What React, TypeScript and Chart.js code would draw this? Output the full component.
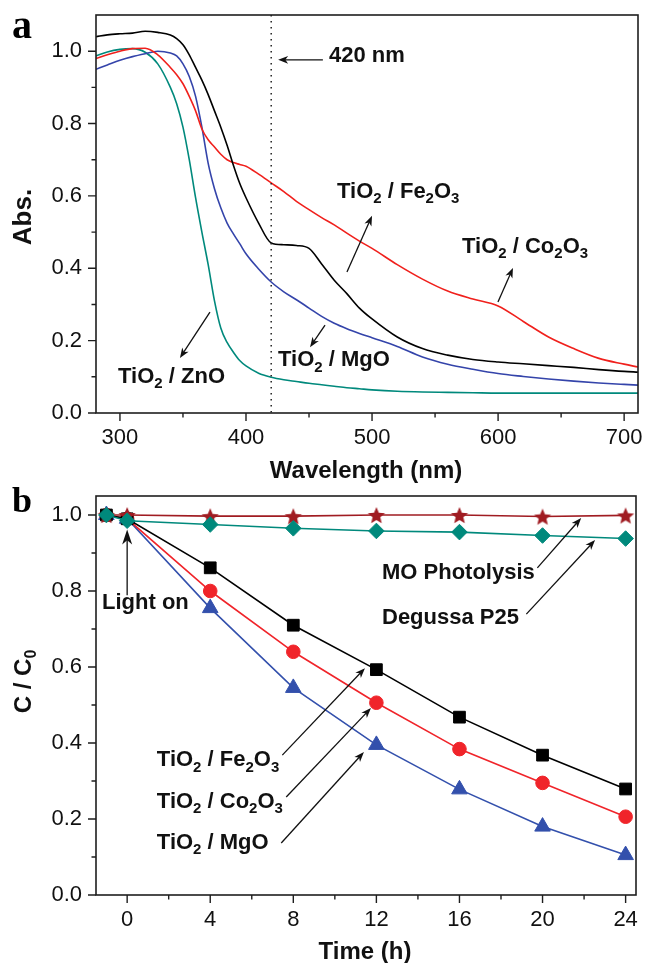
import React, { useEffect, useRef } from 'react';
import { Chart, registerables } from 'chart.js';
Chart.register(...registerables);

// ---------- Panel a data ----------
const wavelengths = [281, 290, 300, 310, 320, 330, 340, 345, 350, 355, 360, 365, 370, 375, 380, 385, 390, 395, 400, 410, 420, 430, 440, 450, 460, 470, 480, 490, 500, 520, 540, 560, 580, 600, 620, 640, 660, 680, 700, 711];
const absFe2O3 = [1.040, 1.045, 1.048, 1.050, 1.055, 1.052, 1.045, 1.035, 1.018, 0.99, 0.955, 0.92, 0.88, 0.835, 0.79, 0.74, 0.685, 0.635, 0.595, 0.525, 0.47, 0.465, 0.463, 0.455, 0.412, 0.367, 0.33, 0.29, 0.26, 0.21, 0.178, 0.16, 0.148, 0.141, 0.136, 0.131, 0.126, 0.12, 0.115, 0.113];
const absCo2O3 = [0.98, 0.99, 1.0, 1.007, 1.008, 0.99, 0.955, 0.935, 0.91, 0.875, 0.835, 0.785, 0.755, 0.735, 0.715, 0.70, 0.692, 0.687, 0.682, 0.66, 0.636, 0.612, 0.585, 0.562, 0.54, 0.52, 0.497, 0.475, 0.455, 0.41, 0.37, 0.337, 0.315, 0.296, 0.253, 0.21, 0.178, 0.151, 0.135, 0.127];
const absMgO = [0.95, 0.962, 0.975, 0.985, 0.993, 1.0, 0.995, 0.987, 0.965, 0.93, 0.875, 0.79, 0.69, 0.62, 0.567, 0.525, 0.495, 0.468, 0.44, 0.398, 0.362, 0.335, 0.313, 0.29, 0.267, 0.248, 0.233, 0.22, 0.208, 0.184, 0.155, 0.135, 0.121, 0.109, 0.101, 0.094, 0.088, 0.083, 0.079, 0.077];
const absZnO = [0.987, 0.998, 1.005, 1.007, 0.997, 0.965, 0.9, 0.855, 0.79, 0.70, 0.595, 0.50, 0.41, 0.31, 0.235, 0.195, 0.168, 0.145, 0.13, 0.11, 0.099, 0.092, 0.087, 0.082, 0.078, 0.074, 0.07, 0.067, 0.064, 0.06, 0.058, 0.057, 0.056, 0.055, 0.055, 0.055, 0.055, 0.055, 0.055, 0.055];
const wlTicks = [300, 400, 500, 600, 700];
const wlMinor = [350, 450, 550, 650];
const absTicks = [0, 0.2, 0.4, 0.6, 0.8, 1.0];
const absMinor = [0.1, 0.3, 0.5, 0.7, 0.9];

// ---------- Panel b data ----------
const timeH = [-1, 0, 4, 8, 12, 16, 20, 24];
const cFe2O3 = [1.0, 0.99, 0.861, 0.71, 0.593, 0.468, 0.368, 0.279];
const cCo2O3 = [1.0, 0.99, 0.80, 0.64, 0.506, 0.384, 0.295, 0.206];
const cMgO = [1.0, 0.99, 0.755, 0.545, 0.395, 0.278, 0.18, 0.105];
const cP25 = [1.0, 0.985, 0.975, 0.965, 0.958, 0.955, 0.946, 0.938];
const cPhotolysis = [1.0, 1.0, 0.997, 0.997, 1.0, 1.0, 0.996, 0.999];
const timeTicks = [0, 4, 8, 12, 16, 20, 24];
const timeMinor = [2, 6, 10, 14, 18, 22];
const cTicks = [0, 0.2, 0.4, 0.6, 0.8, 1.0];
const cMinor = [0.1, 0.3, 0.5, 0.7, 0.9];

const FONT = '"Liberation Sans", Arial, Helvetica, sans-serif';
const SERIF = '"Liberation Serif", "Times New Roman", serif';
const AXIS = '#1e1e1e';

// annotations (data coordinates)
const annotA = [
  { text: '420 nm', x: 465.8, y: 0.987, tail: [461, 0.976], tip: [425.5, 0.976] },
  { text: 'TiO_2 / Fe_2O_3', x: 472.2, y: 0.611, tail: [480.1, 0.39], tip: [500, 0.545] },
  { text: 'TiO_2 / Co_2O_3', x: 571.4, y: 0.459, tail: [599.9, 0.307], tip: [611.8, 0.401] },
  { text: 'TiO_2 / MgO', x: 425.4, y: 0.146, tail: [462.7, 0.243], tip: [450.8, 0.182] },
  { text: 'TiO_2 / ZnO', x: 298.5, y: 0.0995, tail: [371.4, 0.279], tip: [347.6, 0.152] },
];
const annotB = [
  { text: 'Light on', x: -1.21, y: 0.768, tail: [0, 0.789], tip: [0, 0.962], big: true },
  { text: 'MO Photolysis', x: 12.27, y: 0.847, tail: [19.75, 0.861], tip: [21.86, 0.992] },
  { text: 'Degussa P25', x: 12.27, y: 0.729, tail: [19.22, 0.739], tip: [22.53, 0.934] },
  { text: 'TiO_2 / Fe_2O_3', x: 1.43, y: 0.355, tail: [7.47, 0.368], tip: [11.45, 0.597] },
  { text: 'TiO_2 / Co_2O_3', x: 1.43, y: 0.245, tail: [7.66, 0.258], tip: [11.74, 0.492] },
  { text: 'TiO_2 / MgO', x: 1.43, y: 0.137, tail: [7.42, 0.137], tip: [11.40, 0.376] },
];

function parseSub(text: string) {
  const out: { t: string; sub: boolean }[] = [];
  let buf = '';
  for (let i = 0; i < text.length; i++) {
    if (text[i] === '_') {
      if (buf) out.push({ t: buf, sub: false });
      buf = '';
      out.push({ t: text[i + 1], sub: true });
      i++;
    } else buf += text[i];
  }
  if (buf) out.push({ t: buf, sub: false });
  return out;
}

function drawRich(ctx: CanvasRenderingContext2D, text: string, x: number, y: number, size: number, align: 'left' | 'center' = 'left') {
  const parts = parseSub(text);
  const sub = Math.round(size * 0.68);
  let total = 0;
  const ws = parts.map((p) => {
    ctx.font = `bold ${p.sub ? sub : size}px ${FONT}`;
    const w = ctx.measureText(p.t).width;
    total += w;
    return w;
  });
  let cx = align === 'center' ? x - total / 2 : x;
  ctx.textAlign = 'left';
  ctx.textBaseline = 'middle';
  ctx.fillStyle = '#111';
  parts.forEach((p, i) => {
    ctx.font = `bold ${p.sub ? sub : size}px ${FONT}`;
    ctx.fillText(p.t, cx, p.sub ? y + size * 0.33 : y);
    cx += ws[i];
  });
}

function arrow(ctx: CanvasRenderingContext2D, x1: number, y1: number, x2: number, y2: number, len = 10, hw = 3.8) {
  const a = Math.atan2(y2 - y1, x2 - x1);
  const c = Math.cos(a), s = Math.sin(a);
  ctx.strokeStyle = '#111';
  ctx.fillStyle = '#111';
  ctx.lineWidth = 1.3;
  ctx.beginPath();
  ctx.moveTo(x1, y1);
  ctx.lineTo(x2 - c * len * 0.6, y2 - s * len * 0.6);
  ctx.stroke();
  const bx = x2 - c * len, by = y2 - s * len;
  const nx = -s, ny = c;
  ctx.beginPath();
  ctx.moveTo(x2, y2);
  ctx.lineTo(bx + nx * hw, by + ny * hw);
  ctx.lineTo(x2 - c * len * 0.72, y2 - s * len * 0.72);
  ctx.lineTo(bx - nx * hw, by - ny * hw);
  ctx.closePath();
  ctx.fill();
}

function drawAxesFrame(chart: any, xMajor: number[], xMinor: number[], yMajor: number[], yMinor: number[]) {
  const ctx: CanvasRenderingContext2D = chart.ctx;
  const { left, right, top, bottom } = chart.chartArea;
  const xs = chart.scales.x, ys = chart.scales.y;
  ctx.save();
  ctx.strokeStyle = AXIS;
  ctx.lineWidth = 1.6;
  ctx.strokeRect(left, top, right - left, bottom - top);
  ctx.lineWidth = 1.4;
  ctx.beginPath();
  xMajor.forEach((v) => { const p = xs.getPixelForValue(v); ctx.moveTo(p, bottom); ctx.lineTo(p, bottom + 8); });
  xMinor.forEach((v) => { const p = xs.getPixelForValue(v); ctx.moveTo(p, bottom); ctx.lineTo(p, bottom + 4.5); });
  yMajor.forEach((v) => { const p = ys.getPixelForValue(v); ctx.moveTo(left, p); ctx.lineTo(left - 8, p); });
  yMinor.forEach((v) => { const p = ys.getPixelForValue(v); ctx.moveTo(left, p); ctx.lineTo(left - 4.5, p); });
  ctx.stroke();
  ctx.restore();
}

function drawAnnots(chart: any, list: any[]) {
  const ctx: CanvasRenderingContext2D = chart.ctx;
  const xs = chart.scales.x, ys = chart.scales.y;
  ctx.save();
  list.forEach((a) => {
    drawRich(ctx, a.text, xs.getPixelForValue(a.x), ys.getPixelForValue(a.y), 22);
    arrow(ctx, xs.getPixelForValue(a.tail[0]), ys.getPixelForValue(a.tail[1]), xs.getPixelForValue(a.tip[0]), ys.getPixelForValue(a.tip[1]), a.big ? 15 : 10, a.big ? 5 : 3.8);
  });
  ctx.restore();
}

function drawTitles(chart: any, xTitle: string, yTitle: string, xTitleY: number, yTitleOffset: number, yTitleSize: number, panel: string, panelY: number, panelSize: number) {
  const ctx: CanvasRenderingContext2D = chart.ctx;
  const { left, right, top, bottom } = chart.chartArea;
  ctx.save();
  drawRich(ctx, xTitle, (left + right) / 2 - 1, xTitleY, 24, 'center');
  ctx.translate(24, (top + bottom) / 2 + yTitleOffset);
  ctx.rotate(-Math.PI / 2);
  drawRich(ctx, yTitle, 0, 0, yTitleSize, 'center');
  ctx.restore();
  ctx.save();
  ctx.font = `bold ${panelSize}px ${SERIF}`;
  ctx.fillStyle = '#000';
  ctx.textAlign = 'left';
  ctx.textBaseline = 'alphabetic';
  ctx.fillText(panel, 12, panelY);
  ctx.restore();
}

function makeStar(r: number, color: string) {
  const c = document.createElement('canvas');
  const s = Math.ceil(r * 2 + 2);
  c.width = s;
  c.height = s;
  const g = c.getContext('2d')!;
  g.fillStyle = color;
  g.beginPath();
  for (let i = 0; i < 10; i++) {
    const ang = -Math.PI / 2 + (i * Math.PI) / 5;
    const rr = i % 2 === 0 ? r : r * 0.45;
    g.lineTo(s / 2 + rr * Math.cos(ang), s / 2 + 1 + rr * Math.sin(ang));
  }
  g.closePath();
  g.fill();
  return c;
}

const tickFont = { family: 'Liberation Sans', size: 22 };

export default function App() {
  const refA = useRef<HTMLCanvasElement>(null);
  const refB = useRef<HTMLCanvasElement>(null);

  useEffect(() => {
    const line = (label: string, ys: number[], color: string) => ({
      label,
      data: wavelengths.map((x, i) => ({ x, y: ys[i] })),
      borderColor: color,
      borderWidth: 1.6,
      pointRadius: 0,
      fill: false,
      cubicInterpolationMode: 'monotone' as const,
    });
    const chartA = new Chart(refA.current!, {
      type: 'line',
      data: {
        datasets: [
          line('TiO2 / Fe2O3', absFe2O3, '#000000'),
          line('TiO2 / Co2O3', absCo2O3, '#f0201c'),
          line('TiO2 / MgO', absMgO, '#3444aa'),
          line('TiO2 / ZnO', absZnO, '#00897c'),
        ],
      },
      options: {
        animation: false,
        responsive: false,
        maintainAspectRatio: false,
        layout: { padding: { top: 15, right: 8, left: 0, bottom: 0 } },
        plugins: { legend: { display: false }, tooltip: { enabled: false } },
        scales: {
          x: {
            type: 'linear', min: 281, max: 711, bounds: 'data',
            afterBuildTicks: (s: any) => { s.ticks = wlTicks.map((v) => ({ value: v })); },
            afterFit: (s: any) => { s.height = 72; s.paddingLeft = 0; s.paddingRight = 0; },
            grid: { display: false, drawTicks: false }, border: { display: false },
            ticks: { padding: 12, font: tickFont, color: '#111', maxRotation: 0, autoSkip: false, callback: (v: any) => String(v) },
          },
          y: {
            type: 'linear', min: 0, max: 1.1, bounds: 'data',
            afterBuildTicks: (s: any) => { s.ticks = absTicks.map((v) => ({ value: v })); },
            afterFit: (s: any) => { s.width = 96; s.paddingTop = 0; s.paddingBottom = 0; },
            grid: { display: false, drawTicks: false }, border: { display: false },
            ticks: { padding: 14, font: tickFont, color: '#111', autoSkip: false, callback: (v: any) => Number(v).toFixed(1) },
          },
        },
      },
      plugins: [{
        id: 'decoA',
        afterDraw(chart: any) {
          const ctx = chart.ctx as CanvasRenderingContext2D;
          const { top, bottom } = chart.chartArea;
          const px = chart.scales.x.getPixelForValue(420);
          ctx.save();
          ctx.strokeStyle = '#222';
          ctx.lineWidth = 1.5;
          ctx.setLineDash([1.5, 4.5]);
          ctx.beginPath();
          ctx.moveTo(px, top);
          ctx.lineTo(px, bottom);
          ctx.stroke();
          ctx.restore();
          drawAxesFrame(chart, wlTicks, wlMinor, absTicks, absMinor);
          drawAnnots(chart, annotA);
          drawTitles(chart, 'Wavelength (nm)', 'Abs.', 471, 3, 26, 'a', 38, 40);
        },
      }],
    } as any);

    const star = makeStar(9, '#a01c22');
    const pts = (label: string, ys: number[], color: string, style: any, r: number) => ({
      label,
      data: timeH.map((x, i) => ({ x, y: ys[i] })),
      borderColor: color,
      backgroundColor: color,
      borderWidth: 1.6,
      pointStyle: style,
      pointRadius: r,
      pointBorderWidth: 1,
      pointBackgroundColor: color,
      pointBorderColor: color,
      fill: false,
      tension: 0,
    });
    const chartB = new Chart(refB.current!, {
      type: 'line',
      data: {
        datasets: [
          pts('Degussa P25', cP25, '#00897c', 'rectRot', 7.8),
          pts('MO Photolysis', cPhotolysis, '#a01c22', star, 9),
          pts('TiO2 / Fe2O3', cFe2O3, '#000000', 'rect', 8.3),
          pts('TiO2 / Co2O3', cCo2O3, '#f0242a', 'circle', 6.8),
          pts('TiO2 / MgO', cMgO, '#3350ac', 'triangle', 9),
        ],
      },
      options: {
        animation: false,
        responsive: false,
        maintainAspectRatio: false,
        layout: { padding: { top: 11, right: 8, left: 0, bottom: 0 } },
        plugins: { legend: { display: false }, tooltip: { enabled: false } },
        scales: {
          x: {
            type: 'linear', min: -1.5, max: 24.5, bounds: 'data',
            afterBuildTicks: (s: any) => { s.ticks = timeTicks.map((v) => ({ value: v })); },
            afterFit: (s: any) => { s.height = 68; s.paddingLeft = 0; s.paddingRight = 0; },
            grid: { display: false, drawTicks: false }, border: { display: false },
            ticks: { padding: 12, font: tickFont, color: '#111', maxRotation: 0, autoSkip: false, callback: (v: any) => String(v) },
          },
          y: {
            type: 'linear', min: 0, max: 1.05, bounds: 'data',
            afterBuildTicks: (s: any) => { s.ticks = cTicks.map((v) => ({ value: v })); },
            afterFit: (s: any) => { s.width = 96; s.paddingTop = 0; s.paddingBottom = 0; },
            grid: { display: false, drawTicks: false }, border: { display: false },
            ticks: { padding: 14, font: tickFont, color: '#111', autoSkip: false, callback: (v: any) => Number(v).toFixed(1) },
          },
        },
      },
      plugins: [{
        id: 'decoB',
        afterDraw(chart: any) {
          drawAxesFrame(chart, timeTicks, timeMinor, cTicks, cMinor);
          drawAnnots(chart, annotB);
          drawTitles(chart, 'Time (h)', 'C / C_0', 467, -14, 24, 'b', 27, 36);
        },
      }],
    } as any);

    return () => {
      chartA.destroy();
      chartB.destroy();
    };
  }, []);

  return (
    <div style={{ position: 'absolute', left: 0, top: 0, width: 646, height: 963, background: '#fff' }}>
      <canvas ref={refA} width={646} height={485} style={{ display: 'block', width: 646, height: 485 }} />
      <canvas ref={refB} width={646} height={478} style={{ display: 'block', width: 646, height: 478 }} />
    </div>
  );
}
